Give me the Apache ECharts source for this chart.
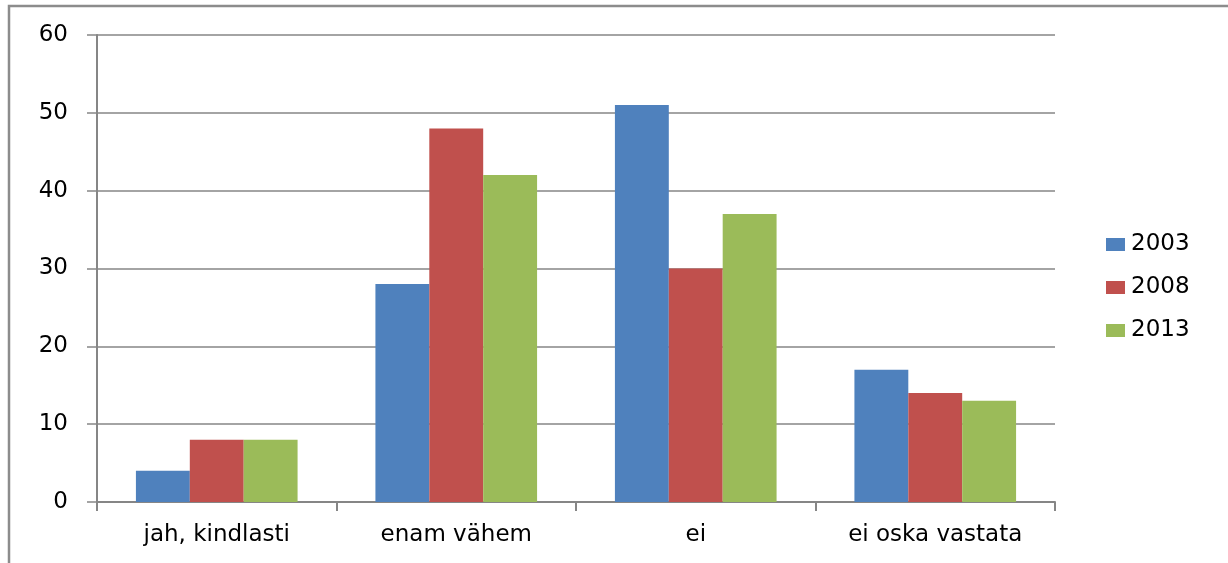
<!DOCTYPE html>
<html>
<head>
<meta charset="utf-8">
<script src="https://cdn.jsdelivr.net/npm/echarts@6/dist/echarts.min.js"></script>
<style>
  html, body { margin: 0; padding: 0; background: #fff; }
  #chart { width: 1228px; height: 563px; }
</style>
</head>
<body>
<div id="chart"></div>
<script>
  const categories = ['jah, kindlasti', 'enam vähem', 'ei', 'ei oska vastata'];
  const years = ['2003', '2008', '2013'];
  const values2003 = [4, 28, 51, 17];
  const values2008 = [8, 48, 30, 14];
  const values2013 = [8, 42, 37, 13];
  const colors = ['#4f81bd', '#c0504d', '#9bbb59'];

  const font = 'DejaVu Sans, Verdana, sans-serif';
  const chart = echarts.init(document.getElementById('chart'));

  const seriesData = [values2003, values2008, values2013];

  chart.setOption({
    animation: false,
    backgroundColor: '#fff',
    graphic: [{
      type: 'rect',
      shape: { x: 9, y: 6, width: 1300, height: 600 },
      style: { fill: 'none', stroke: '#8c8c8c', lineWidth: 2.5 }
    }],
    grid: { left: 97, right: 173, top: 35, bottom: 61 },
    legend: {
      orient: 'vertical',
      left: 1106,
      top: 233,
      padding: 0,
      itemWidth: 19,
      itemHeight: 13,
      itemGap: 20,
      icon: 'rect',
      data: years,
      textStyle: { fontFamily: font, fontSize: 23, color: '#000', padding: [0, 0, 0, 1] }
    },
    xAxis: {
      type: 'category',
      data: categories,
      axisLine: { lineStyle: { color: '#868686', width: 2 } },
      axisTick: { show: true, length: 9, alignWithLabel: false, lineStyle: { color: '#868686', width: 2 } },
      axisLabel: { fontFamily: font, fontSize: 23, color: '#000', margin: 22 }
    },
    yAxis: {
      type: 'value',
      min: 0,
      max: 60,
      interval: 10,
      axisLine: { show: true, lineStyle: { color: '#868686', width: 2 } },
      axisTick: { show: true, length: 10, lineStyle: { color: '#868686', width: 1.5 } },
      splitLine: { lineStyle: { color: '#868686', width: 1.5 } },
      axisLabel: { fontFamily: font, fontSize: 23, color: '#000', margin: 29 }
    },
    series: years.map((y, i) => ({
      name: y,
      type: 'bar',
      data: seriesData[i],
      barGap: 0,
      barCategoryGap: '32.5%',
      itemStyle: { color: colors[i] }
    }))
  });
</script>
</body>
</html>
